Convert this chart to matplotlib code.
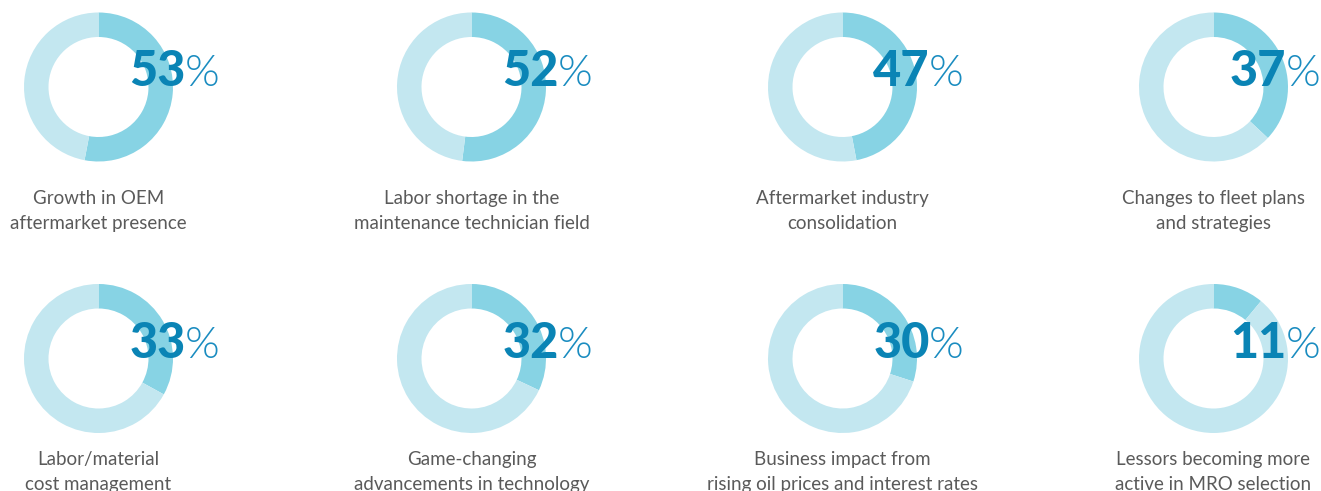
import matplotlib
matplotlib.use("Agg")
import matplotlib.pyplot as plt

# survey results (share of respondents, %)
values = [53, 52, 47, 37, 33, 32, 30, 11]
labels = [
    "Growth in OEM\naftermarket presence",
    "Labor shortage in the\nmaintenance technician field",
    "Aftermarket industry\nconsolidation",
    "Changes to fleet plans\nand strategies",
    "Labor/material\ncost management",
    "Game-changing\nadvancements in technology",
    "Business impact from\nrising oil prices and interest rates",
    "Lessors becoming more\nactive in MRO selection",
]

W, H = 1321, 491
col_x = [98.5, 471.5, 842.5, 1213.5]
row_y = [87, 358.5]          # donut centres (pixels from top)
label_y = [204, 465]         # baseline of first label line
R_OUT, RING = 74.5, 24.5

c_fill = "#87d3e4"
c_rest = "#c3e7f0"
c_num = "#0a84b5"
c_pct = "#1a8cc0"
c_txt = "#5a5a5a"

fig = plt.figure(figsize=(W / 100, H / 100), dpi=100)
ax = fig.add_axes([0, 0, 1, 1])
renderer = fig.canvas.get_renderer()

for i, (v, lab) in enumerate(zip(values, labels)):
    cx = col_x[i % 4]
    cy = row_y[i // 4]
    ax.pie([v, 100 - v], colors=[c_fill, c_rest], startangle=90,
           counterclock=False, radius=R_OUT, center=(cx, H - cy),
           wedgeprops=dict(width=RING, linewidth=0), frame=True)

# limits first, so text extents map 1:1 onto data units
ax.set_xlim(0, W)
ax.set_ylim(0, H)
ax.set_aspect("equal")
ax.axis("off")
inv = ax.transData.inverted()

for i, (v, lab) in enumerate(zip(values, labels)):
    cx = col_x[i % 4]
    cy = row_y[i // 4]

    # big number + light percent sign, right edge kept inside the picture
    x_end = min(cx + 121, 1320)
    base = H - (cy - 1)
    pct = ax.text(x_end, base, "%", ha="right", va="baseline",
                  fontsize=32, fontfamily="Lato", fontweight=300,
                  color=c_pct, zorder=5)
    bb = pct.get_window_extent(renderer)
    x0 = inv.transform((bb.x0, bb.y0))[0]
    ax.text(x0 + 1, base, str(v), ha="right", va="baseline",
            fontsize=35, fontfamily="Lato", fontweight="black",
            color=c_num, zorder=5)

    for k, line in enumerate(lab.split("\n")):
        ax.text(cx, H - (label_y[i // 4] + 25 * k), line, ha="center",
                va="baseline", fontsize=13.5, fontfamily="Lato",
                fontweight=400, color=c_txt)

fig.savefig("out.png", dpi=100)
